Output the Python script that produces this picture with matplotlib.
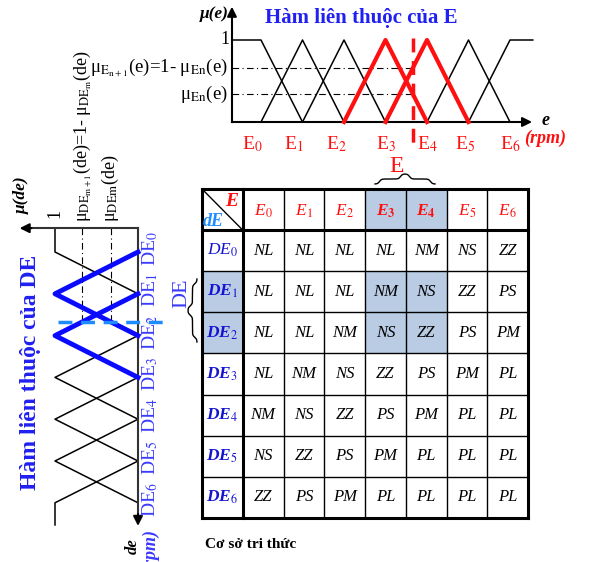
import numpy as np
import matplotlib.pyplot as plt

plt.rcParams['font.family'] = ['Liberation Serif', 'DejaVu Serif']
plt.rcParams['mathtext.fontset'] = 'stix'

# ---- data ----
n_sets = 7
e_names = ['0', '1', '2', '3', '4', '5', '6']
de_names = ['0', '1', '2', '3', '4', '5', '6']
e_active = [3, 4]          # tap E dang kich hoat
de_active = [1, 2]         # tap DE dang kich hoat
e_crisp = 3.66             # gia tri e do duoc (theo chi so tap)
de_crisp = 1.67            # gia tri de do duoc
rules = [
    ['NL', 'NL', 'NL', 'NL', 'NM', 'NS', 'ZZ'],
    ['NL', 'NL', 'NL', 'NM', 'NS', 'ZZ', 'PS'],
    ['NL', 'NL', 'NM', 'NS', 'ZZ', 'PS', 'PM'],
    ['NL', 'NM', 'NS', 'ZZ', 'PS', 'PM', 'PL'],
    ['NM', 'NS', 'ZZ', 'PS', 'PM', 'PL', 'PL'],
    ['NS', 'ZZ', 'PS', 'PM', 'PL', 'PL', 'PL'],
    ['ZZ', 'PS', 'PM', 'PL', 'PL', 'PL', 'PL'],
]

W, H = 589, 562
RED = '#ff1010'
BLUE = '#2020f0'
LBLUE = '#3a3aff'
DBLUE = '#1e8cff'
SHADE = '#b9cce4'

fig = plt.figure(figsize=(W / 100, H / 100), dpi=100)


def make_ax(x0, sx, y0, sy):
    # u -> px = x0 + sx*u ; v -> py (tu tren xuong) = y0 + sy*v
    ax = fig.add_axes([0, 0, 1, 1])
    ax.set_xlim((0 - x0) / sx, (W - x0) / sx)
    ax.set_ylim((H - y0) / sy, (0 - y0) / sy)
    ax.axis('off')
    return ax


def shape(i, lo, hi):
    # diem cua ham thuoc thu i (tam giac, hai dau la hinh thang)
    if i == 0:
        return [lo, 0, 1], [1, 1, 0]
    if i == n_sets - 1:
        return [i - 1, i, hi], [0, 1, 1]
    return [i - 1, i, i + 1], [0, 1, 0]


def tri_mu(i, x):
    xs, ys = shape(i, -10, 10)
    return np.interp(x, xs, ys)


# ---- ham thuoc E (tren) ----
ax_e = make_ax(261, 41.5, 122, -82)
for i in range(n_sets):
    xs, ys = shape(i, -0.7, 6.55)
    if i in e_active:
        ax_e.plot(xs, ys, color=RED, lw=3, zorder=3)
    else:
        ax_e.plot(xs, ys, color='black', lw=1.1)
mu_lo = tri_mu(e_active[0], e_crisp)
mu_hi = tri_mu(e_active[1], e_crisp)
for lv in [mu_lo, mu_hi]:
    ax_e.plot([-0.7, e_crisp], [lv, lv], color='black', lw=0.8, dashes=(6, 3, 1, 3))
ax_e.plot([e_crisp, e_crisp], [1.02, -0.28], color=RED, lw=2.5, dashes=(4, 2.5), zorder=4)
ax_e.plot([-0.7, 6.3], [0, 0], color='black', lw=1.5)
ax_e.annotate('', xy=(6.6, 0), xytext=(6.2, 0),
              arrowprops=dict(arrowstyle='-|>', color='black', lw=1.5, mutation_scale=14))
ax_e.plot([-0.7, -0.7], [0, 1.3], color='black', lw=1.5)
ax_e.annotate('', xy=(-0.7, 1.44), xytext=(-0.7, 1.25),
              arrowprops=dict(arrowstyle='-|>', color='black', lw=1.5, mutation_scale=14))
nudge = [-0.22, -0.2, -0.18, 0, 0, -0.07, 0]
for i in range(n_sets):
    ax_e.text(i + nudge[i], -0.27, 'E$_{%s}$' % e_names[i], color=RED,
              fontsize=14, ha='center', va='center')
ax_e.text(6.75, 0.02, 'e', fontsize=13, fontweight='bold', style='italic',
          ha='left', va='center')
ax_e.text(6.85, -0.2, '(rpm)', fontsize=13, fontweight='bold', style='italic',
          color=RED, ha='center', va='center')
ax_e.text(-0.75, 1.0, '1', fontsize=13, ha='right', va='center')
ax_e.text(-0.8, mu_hi, 'μ$_{\\mathrm{E}_{\\mathrm{n+1}}}$(e)=1- μ$_{\\mathrm{En}}$(e)',
          fontsize=13.5, ha='right', va='center')
ax_e.text(-0.8, mu_lo, 'μ$_{\\mathrm{En}}$(e)', fontsize=13.5, ha='right', va='center')
ax_e.text(-1.13, 1.32, 'μ(e)', fontsize=12.5, fontweight='bold', style='italic',
          ha='center', va='center')
ax_e.text(0.1, 1.27, 'Hàm liên thuộc của E', fontsize=15, fontweight='bold',
          color=BLUE, ha='left', va='center')

# ---- ham thuoc DE (trai, xoay) ----
ax_d = make_ax(138, -83, 252, 41.8)
for i in range(n_sets):
    ys, xs = shape(i, -0.57, 6.53)
    if i in de_active:
        ax_d.plot(xs, ys, color='#0a0aff', lw=3.5, zorder=3)
    else:
        ax_d.plot(xs, ys, color='black', lw=1.1)
dmu_lo = tri_mu(de_active[0], de_crisp)
dmu_hi = tri_mu(de_active[1], de_crisp)
for lv in [dmu_lo, dmu_hi]:
    ax_d.plot([lv, lv], [-0.57, de_crisp], color='black', lw=0.8, dashes=(6, 3, 1, 3))
ax_d.plot([0.96, -0.33], [de_crisp, de_crisp], color=DBLUE, lw=2.5, dashes=(4, 2.5), zorder=4)
ax_d.plot([0, 0], [-0.57, 6.3], color='#333333', lw=1.5)
ax_d.annotate('', xy=(0, 6.62), xytext=(0, 6.2),
              arrowprops=dict(arrowstyle='-|>', color='black', lw=1.5, mutation_scale=14))
ax_d.plot([0, 1.3], [-0.57, -0.57], color='#333333', lw=1.5)
ax_d.annotate('', xy=(1.46, -0.57), xytext=(1.25, -0.57),
              arrowprops=dict(arrowstyle='-|>', color='black', lw=1.5, mutation_scale=14))
for i in range(n_sets):
    ax_d.text(-0.15, i - 0.08, 'DE$_{%s}$' % de_names[i], color=LBLUE, fontsize=14,
              rotation=90, ha='center', va='center')
ax_d.text(1.0, -0.93, '1', fontsize=13, rotation=90, ha='center', va='center')
ax_d.text(dmu_hi, -0.72, 'μ$_{\\mathrm{DE}_{\\mathrm{m+1}}}$(de)=1- μ$_{\\mathrm{DE}_{\\mathrm{m}}}$(de)',
          fontsize=13, rotation=90, rotation_mode='anchor', ha='left', va='center')
ax_d.text(dmu_lo, -0.72, 'μ$_{\\mathrm{DEm}}$(de)', fontsize=13, rotation=90,
          rotation_mode='anchor', ha='left', va='center')
ax_d.text(1.4, -1.37, 'μ(de)', fontsize=12.5, fontweight='bold', style='italic',
          rotation=90, ha='center', va='center')
ax_d.text(0.06, 7.04, 'de', fontsize=12, fontweight='bold', style='italic',
          rotation=90, ha='center', va='center')
ax_d.text(-0.15, 6.62, '(rpm)', fontsize=13, fontweight='bold', style='italic', color=LBLUE,
          rotation=90, rotation_mode='anchor', ha='right', va='center')
ax_d.text(1.3, 2.87, 'Hàm liên thuộc của DE', fontsize=17, fontweight='bold',
          color=BLUE, rotation=90, ha='center', va='center')

# ---- bang luat ----
ax_t = make_ax(202, 40.75, 189, 41.1)
nr = len(rules) + 1
nc = len(rules[0]) + 1
for c in e_active:
    ax_t.add_patch(plt.Rectangle((c + 1, 0), 1, 1, color=SHADE, lw=0))
for r in de_active:
    ax_t.add_patch(plt.Rectangle((0, r + 1), 1, 1, color=SHADE, lw=0))
    for c in e_active:
        ax_t.add_patch(plt.Rectangle((c + 1, r + 1), 1, 1, color=SHADE, lw=0))
for r in range(nr + 1):
    lw = 2.2 if r in (0, 1, nr) else 1.0
    ax_t.plot([0, nc], [r, r], color='black', lw=lw, solid_capstyle='projecting')
for c in range(nc + 1):
    lw = 2.2 if c in (0, 1, nc) else 1.0
    ax_t.plot([c, c], [0, nr], color='black', lw=lw, solid_capstyle='projecting')
ax_t.plot([0, 1], [0, 1], color='black', lw=1.0)
ax_t.text(0.72, 0.3, 'E', color=RED, fontsize=14, fontweight='bold', style='italic',
          ha='center', va='center')
ax_t.text(0.28, 0.8, 'dE', color=DBLUE, fontsize=13, fontweight='bold', style='italic',
          ha='center', va='center')
for c in range(len(e_names)):
    bold = c in e_active
    sub = '\\mathbf{%s}' % e_names[c] if bold else '\\mathit{%s}' % e_names[c]
    ax_t.text(c + 1.5, 0.55, 'E$_{%s}$' % sub, color=RED, fontsize=12.5, style='italic',
              fontweight='bold' if bold else 'normal', ha='center', va='center')
for r in range(len(de_names)):
    sub = '\\mathit{%s}' % de_names[r]
    ax_t.text(0.5, r + 1.5, 'DE$_{%s}$' % sub, color='#1515d0', fontsize=12.5, style='italic',
              fontweight='normal' if r == 0 else 'bold', ha='center', va='center')
    for c in range(len(rules[r])):
        ax_t.text(c + 1.5, r + 1.5, rules[r][c], fontsize=12, style='italic',
                  ha='center', va='center')

# ---- chu thich, ngoac ----
ax_p = make_ax(0, 1, 0, 1)


def brace(a, b, base, h, vertical=False):
    half = (b - a) / 2
    t = np.linspace(0, half, 120)
    k = 30 / half
    s = 0.5 / (1 + np.exp(-k * (t - half * 0.15))) + 0.5 / (1 + np.exp(-k * (t - half * 0.85)))
    u = np.concatenate([a + t, b - t[::-1]])
    v = base - h * np.concatenate([s, s[::-1]])
    if vertical:
        ax_p.plot(v, u, color='black', lw=1)
    else:
        ax_p.plot(u, v, color='black', lw=1)


brace(375, 435, 184, 10)
ax_p.text(397, 166, 'E', color=RED, fontsize=17, ha='center', va='center')
brace(279, 342, 197, 9, vertical=True)
ax_p.text(182, 293, 'DE', color=LBLUE, fontsize=16, rotation=90, ha='center', va='center')
ax_p.text(205, 545, 'Cơ sở tri thức', fontsize=11, fontweight='bold', ha='left', va='center')

fig.savefig('out.png', dpi=100)
